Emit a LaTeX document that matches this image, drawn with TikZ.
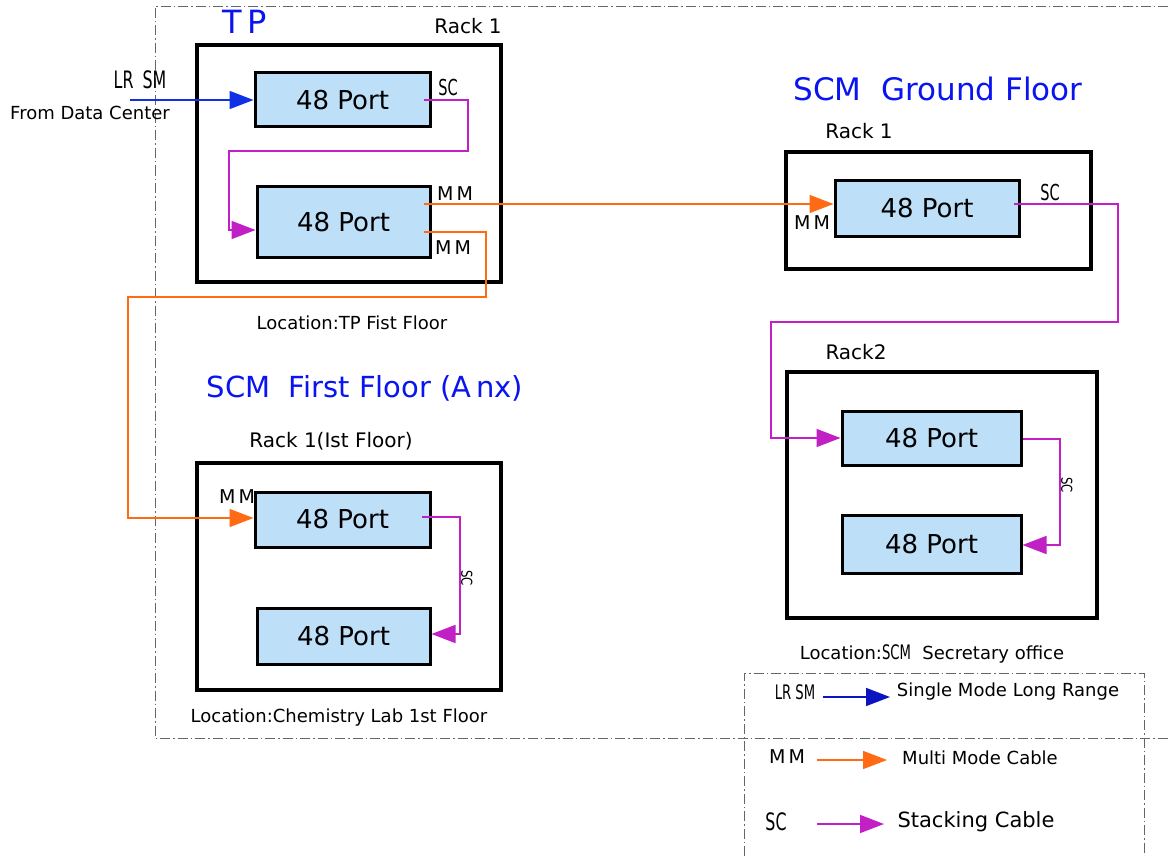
\documentclass[tikz,border=0pt]{standalone}
\usepackage{fontspec}
\setmainfont{DejaVu Sans}
\newfontfamily\narrowfont[FakeStretch=0.78]{DejaVu Sans}
\newfontfamily\tallfont[FakeStretch=0.66]{DejaVu Sans}
\usetikzlibrary{arrows.meta}
\definecolor{portfill}{HTML}{BEDFF8}
\definecolor{titleblue}{HTML}{0A14F0}
\definecolor{smblue}{HTML}{1030E8}
\definecolor{lgblue}{HTML}{0A14C0}
\definecolor{mmorange}{HTML}{FF6A14}
\definecolor{scmag}{HTML}{C020C4}
\newcommand{\fs}[1]{\fontsize{#1}{#1}\selectfont}
\tikzset{
  rack/.style={draw=black, line width=3.5pt, fill=white, inner sep=0pt},
  port/.style={draw=black, line width=3pt, fill=portfill, inner sep=0pt, font=\fs{26}},
  title/.style={text=titleblue, inner sep=0pt},
  lbl/.style={inner sep=0pt, font=\fs{18}},
  small/.style={inner sep=0pt, font=\narrowfont\fs{17}},
  tall/.style={inner sep=0pt, font=\tallfont\fs{22}},
  frame/.style={draw=black!60, line width=0.8pt, dash pattern=on 10pt off 3pt on 1.5pt off 3pt},
  tip/.style={-{Triangle[length=24pt,width=18pt]}},
  sm/.style={tip, draw=smblue, line width=1.6pt},
  mm/.style={tip, draw=mmorange, line width=1.6pt},
  sc/.style={tip, draw=scmag, line width=1.6pt},
}
\begin{document}
\begin{tikzpicture}[x=1pt,y=-1pt]
\useasboundingbox[fill=white] (0,0) rectangle (1168,856);

% dash-dot frames
\draw[frame] (1168,6) -- (155,6) -- (155,738) -- (1168,738);
\draw[frame] (744,856) -- (744,673) -- (1144,673) -- (1144,856);

% ---------- TP ----------
\node[title, font=\fs{32}] (tptitle) at (245,22) {T\,P};
\node[lbl, font=\fs{20}] (tprack) at (468,26) {Rack 1};
\node[rack, minimum width=304pt, minimum height=237pt] (tpbox) at (349,163.5) {};
\node[port, minimum width=175pt, minimum height=54pt] (tpa) at (342.5,100) {48 Port};
\node[port, minimum width=173pt, minimum height=70pt] (tpb) at (343.5,222) {48 Port};
\node[tall, font=\tallfont\fs{24}] (lrsm) at (140,80) {LR\ \,SM};
\node[lbl] (fromdc) at (90,113) {From Data Center};
\node[tall] (tpsc) at (448,87) {SC};
\node[lbl, font=\fs{19}] (tpmm1) at (455,194) {M\,M};
\node[lbl, font=\fs{19}] (tpmm2) at (453,248) {M\,M};
\node[lbl] (tploc) at (352,323) {Location:TP Fist Floor};
\coordinate (dcin) at (130,100);

% ---------- SCM First Floor ----------
\node[title, font=\fs{29}] (fftitle) at (365,388) {SCM\ \ First Floor (A\,nx)};
\node[lbl, font=\fs{20}] (ffrack) at (331,441) {Rack 1(Ist Floor)};
\node[rack, minimum width=304pt, minimum height=227pt] (ffbox) at (349,576.5) {};
\node[port, minimum width=175pt, minimum height=55pt] (ffa) at (342.5,519.5) {48 Port};
\node[port, minimum width=173pt, minimum height=56pt] (ffb) at (343.5,636) {48 Port};
\node[lbl, font=\fs{19}] (ffmm) at (237,497) {M\,M};
\node[lbl] (ffloc) at (339,718) {Location:Chemistry Lab 1st Floor};

% ---------- SCM Ground Floor ----------
\node[title, font=\fs{31}] (gftitle) at (938,89) {SCM\ \ Ground Floor};
\node[lbl, font=\fs{20}] (gfrack) at (859,131) {Rack 1};
\node[rack, minimum width=305pt, minimum height=117pt] (gfbox) at (938.5,210.5) {};
\node[port, minimum width=184pt, minimum height=55pt] (gfa) at (927,208.5) {48 Port};
\node[lbl, font=\fs{19}] (gfmm) at (812,223) {M\,M};
\node[tall] (gfsc) at (1050,192) {SC};

% ---------- SCM Rack2 ----------
\node[lbl, font=\fs{20}] (r2rack) at (856,352) {Rack2};
\node[rack, minimum width=310pt, minimum height=246pt] (r2box) at (942,495) {};
\node[port, minimum width=179pt, minimum height=54pt] (r2a) at (931.5,438) {48 Port};
\node[port, minimum width=179pt, minimum height=58pt] (r2b) at (931.5,544) {48 Port};
\node[lbl] (r2loc) at (932,654) {Location:{\tallfont\fs{20}SCM}\ \ Secretary office};

% ---------- cables ----------
\draw[sm] (dcin) -- (tpa.west);
\draw[sc] ([xshift=-8pt]tpa.east) -- (468,100) -- (468,151) -- (229,151) -- (229,230) -- ([yshift=-8pt]tpb.west);
\draw[mm] ([xshift=-8pt,yshift=18pt]tpb.east) -- (gfa.west |- 0,204);
\draw[mm] ([xshift=-8pt,yshift=-10pt]tpb.east) -- (486,232) -- (486,297) -- (128,297) -- (128,518) -- ([yshift=1.5pt]ffa.west);
\draw[sc] ([xshift=-10pt,yshift=2.5pt]ffa.east) -- (460,517) -- (460,634) -- ([yshift=2pt]ffb.east);
\node[small, font=\narrowfont\fs{15}, rotate=270, anchor=south] (ffsc) at (461,578) {SC};
\draw[sc] ([xshift=-7pt,yshift=4.5pt]gfa.east) -- (1118,204) -- (1118,322) -- (771,322) -- (771,438) -- (r2a.west);
\draw[sc] (r2a.east |- 0,439) -- (1060,439) -- (1060,545) -- ([yshift=-1pt]r2b.east);
\node[small, font=\narrowfont\fs{15}, rotate=270, anchor=south] (r2sc) at (1061,485) {SC};

% ---------- legend ----------
\node[tall, font=\tallfont\fs{20}] (lgsm) at (795,692) {LR\ SM};
\coordinate (lgsma) at (823,697); \coordinate (lgsmb) at (890,697);
\draw[tip, draw=lgblue, line width=1.6pt] (lgsma) -- (lgsmb);
\node[lbl, font=\fs{18}] (lgsmt) at (1008,692) {Single Mode Long Range};
\node[lbl, font=\fs{19}] (lgmm) at (787,757) {M\,M};
\coordinate (lgmma) at (817,760); \coordinate (lgmmb) at (887,760);
\draw[mm] (lgmma) -- (lgmmb);
\node[lbl] (lgmmt) at (980,758) {Multi Mode Cable};
\node[tall, font=\tallfont\fs{24}] (lgsc) at (776,822) {SC};
\coordinate (lgsca) at (817,824); \coordinate (lgscb) at (884,824);
\draw[sc] (lgsca) -- (lgscb);
\node[lbl, font=\fs{21}] (lgsct) at (976,822) {Stacking Cable};
\end{tikzpicture}
\end{document}
